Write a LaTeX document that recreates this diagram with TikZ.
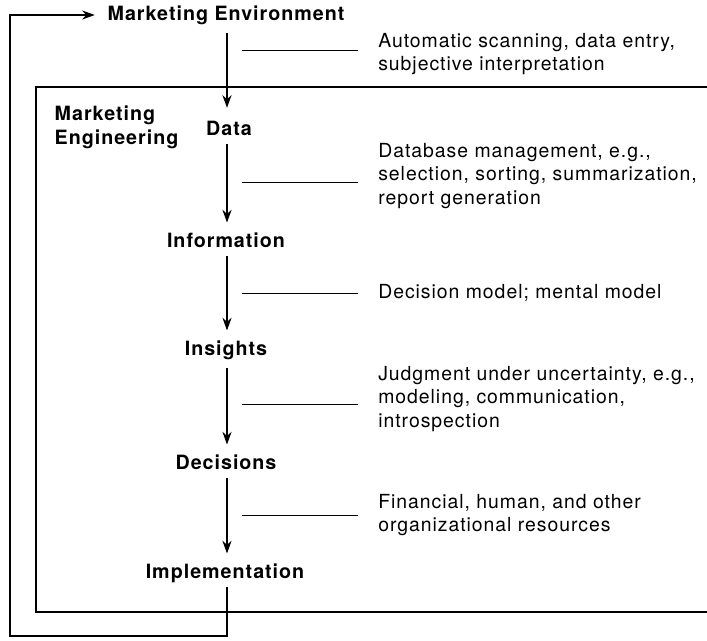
\documentclass[tikz,border=0pt]{standalone}
\usepackage{fontspec}
\setmainfont{TeX Gyre Heros}[LetterSpace=5]
\usetikzlibrary{arrows.meta}
\tikzset{
  stage/.style={font=\fontsize{14}{17}\selectfont\bfseries, inner sep=1pt},
  note/.style={font=\fontsize{13.8}{17}\selectfont, anchor=west, align=left, inner sep=0pt},
  flow/.style={-{Stealth[length=9pt,width=6.5pt]}, line width=0.8pt},
  link/.style={line width=0.7pt, shorten >=14pt},
}

\begin{document}
\begin{tikzpicture}[x=0.025cm, y=-0.025cm]
\useasboundingbox (0,0) rectangle (707,640);

% stages
\node[stage] (env) at (226,15) {Marketing Environment};
\node[stage] (data) at (229,128) {Data};
\node[stage] (info) at (226,240) {Information};
\node[stage] (ins) at (226,350) {Insights};
\node[stage] (dec) at (226,462) {Decisions};
\node[stage] (impl) at (225,573) {Implementation};
\node[stage, anchor=west, align=left] (eng) at (53,127) {Marketing\\Engineering};

% box, open on the right
\draw[line width=1pt] (707,87) -- (36,87) -- (36,612) -- (707,612);

\coordinate (axis) at (227,0);
\draw[flow, shorten <=5pt, shorten >=8pt] (env.south -| axis) -- (data.north -| axis);
\draw[flow, shorten <=5pt, shorten >=6pt] (data.south -| axis) -- (info.north -| axis);
\draw[flow, shorten <=5pt, shorten >=6pt] (info.south -| axis) -- (ins.north -| axis);
\draw[flow, shorten <=5pt, shorten >=6pt] (ins.south -| axis) -- (dec.north -| axis);
\draw[flow, shorten <=5pt, shorten >=6pt] (dec.south -| axis) -- (impl.north -| axis);

% feedback
\coordinate (back) at (10,636);
\draw[flow, shorten <=2pt, shorten >=8pt] (impl.south -| axis) -- (axis |- back) -- (back) |- (env.west);

% notes
\node[note] (n1) at (378,54) {Automatic scanning, data entry,\\subjective interpretation};
\node[note] (n2) at (378,176) {Database management, e.g.,\\selection, sorting, summarization,\\report generation};
\node[note] (n3) at (378,293) {Decision model; mental model};
\node[note] (n4) at (378,399) {Judgment under uncertainty, e.g.,\\modeling, communication,\\introspection};
\node[note] (n5) at (378,515) {Financial, human, and other\\organizational resources};

\coordinate (l1) at (242,50);
\coordinate (l2) at (242,182);
\coordinate (l3) at (242,293);
\coordinate (l4) at (242,404);
\coordinate (l5) at (242,515);
\draw[link] (l1) -- (l1 -| n1.west);
\draw[link] (l2) -- (l2 -| n2.west);
\draw[link] (l3) -- (l3 -| n3.west);
\draw[link] (l4) -- (l4 -| n4.west);
\draw[link] (l5) -- (l5 -| n5.west);

\end{tikzpicture}
\end{document}
